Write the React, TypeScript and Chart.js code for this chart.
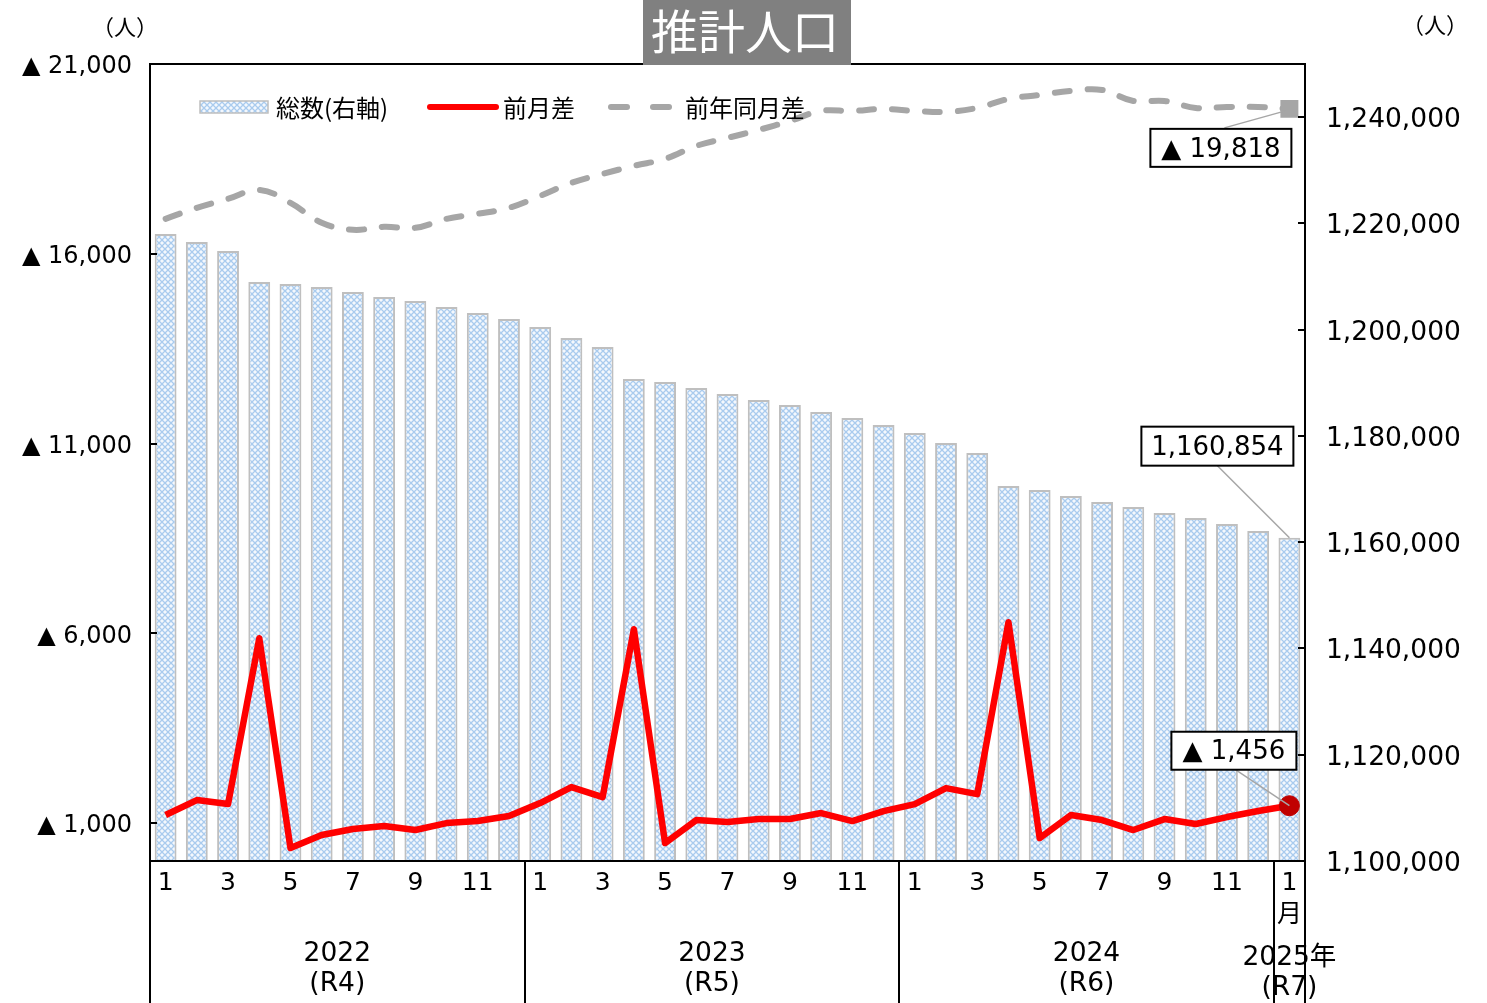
import React, { useEffect, useRef } from "react";
import { Chart, registerables } from "chart.js";

Chart.register(...registerables);

// ---------- data ----------
const categories = [
  "2022-01", "2022-02", "2022-03", "2022-04", "2022-05", "2022-06",
  "2022-07", "2022-08", "2022-09", "2022-10", "2022-11", "2022-12",
  "2023-01", "2023-02", "2023-03", "2023-04", "2023-05", "2023-06",
  "2023-07", "2023-08", "2023-09", "2023-10", "2023-11", "2023-12",
  "2024-01", "2024-02", "2024-03", "2024-04", "2024-05", "2024-06",
  "2024-07", "2024-08", "2024-09", "2024-10", "2024-11", "2024-12",
  "2025-01",
];

const monthTickLabels = [
  "1", "", "3", "", "5", "", "7", "", "9", "", "11", "",
  "1", "", "3", "", "5", "", "7", "", "9", "", "11", "",
  "1", "", "3", "", "5", "", "7", "", "9", "", "11", "",
  "1月",
];

const yearLabels = ["2022", "2023", "2024", "2025年"];
const eraLabels = ["(R4)", "(R5)", "(R6)", "(R7)"];
const yearFirstIndex = [0, 12, 24, 36];
const yearLastIndex = [11, 23, 35, 36];

// 総数 (right axis)
const totalPopulation = [
  1217983, 1216480, 1214785, 1208950, 1208574, 1208010, 1207069, 1206128,
  1205375, 1204246, 1203117, 1201988, 1200483, 1198413, 1196719, 1190698,
  1190134, 1189005, 1187876, 1186747, 1185806, 1184489, 1183359, 1182042,
  1180537, 1178655, 1176774, 1170564, 1169811, 1168682, 1167553, 1166612,
  1165483, 1164542, 1163413, 1162096, 1160854,
];

// 前月差 (decrease, shown with ▲)
const monthlyChange = [
  1211, 1605, 1500, 5868, 342, 684, 842, 921, 816, 1000, 1053, 1184,
  1526, 1947, 1684, 6105, 474, 1079, 1026, 1105, 1105, 1263, 1053, 1316,
  1500, 1921, 1763, 6289, 605, 1211, 1079, 816, 1105, 974, 1158, 1316,
  1456,
];

// 前年同月差 (decrease, shown with ▲)
const yearOnYearChange = [
  16921, 17211, 17447, 17684, 17342, 16816, 16632, 16711, 16684, 16921, 17053, 17211,
  17526, 17868, 18105, 18316, 18500, 18842, 19053, 19263, 19500, 19763, 19763, 19816,
  19763, 19737, 19842, 20079, 20184, 20289, 20316, 20026, 20026, 19842, 19868, 19868,
  19818,
];

const leftTicks = [1000, 6000, 11000, 16000, 21000];
const rightTicks = [1100000, 1120000, 1140000, 1160000, 1180000, 1200000, 1220000, 1240000];

const seriesNames = ["総数(右軸)", "前月差", "前年同月差"];
const titleText = "推計人口";
const unitText = "（人）";

// ---------- styles ----------
const NUM_FONT = '"DejaVu Sans", "Noto Sans CJK JP", sans-serif';
const JP_FONT = '"Noto Sans CJK JP", sans-serif';
const RED = "#ff0000";
const DARK_RED = "#c00000";
const GRAY = "#a6a6a6";
const BAR_BORDER = "#bfbfbf";

const fmt = (v: number) => Math.round(v).toLocaleString("en-US");

function makePattern(): CanvasPattern | string {
  const c = document.createElement("canvas");
  c.width = 6;
  c.height = 6;
  const g = c.getContext("2d");
  if (!g) return "#d6e6f6";
  g.fillStyle = "#f4f8fd";
  g.fillRect(0, 0, 6, 6);
  g.strokeStyle = "#a9cbee";
  g.lineWidth = 1.3;
  g.beginPath();
  g.moveTo(0, 0);
  g.lineTo(6, 6);
  g.moveTo(6, 0);
  g.lineTo(0, 6);
  g.stroke();
  const p = g.createPattern(c, "repeat");
  return p || "#d6e6f6";
}

export default function App() {
  const canvasRef = useRef<HTMLCanvasElement | null>(null);

  useEffect(() => {
    const canvas = canvasRef.current;
    if (!canvas) return;
    const pattern = makePattern();
    const last = categories.length - 1;

    const line = (ctx: CanvasRenderingContext2D, x1: number, y1: number, x2: number, y2: number) => {
      ctx.beginPath();
      ctx.moveTo(x1, y1);
      ctx.lineTo(x2, y2);
      ctx.stroke();
    };

    const callout = (
      ctx: CanvasRenderingContext2D,
      text: string,
      bx: number, by: number, bw: number, bh: number,
      fx: number, fy: number, tx: number, ty: number
    ) => {
      ctx.strokeStyle = GRAY;
      ctx.lineWidth = 1.5;
      line(ctx, fx, fy, tx, ty);
      ctx.fillStyle = "#fff";
      ctx.fillRect(bx, by, bw, bh);
      ctx.strokeStyle = "#000";
      ctx.lineWidth = 2;
      ctx.strokeRect(bx, by, bw, bh);
      ctx.fillStyle = "#000";
      ctx.font = `26px ${NUM_FONT}`;
      ctx.textAlign = "center";
      ctx.textBaseline = "middle";
      ctx.fillText(text, bx + bw / 2, by + bh / 2 + 2);
    };

    const decor = {
      id: "decor",
      afterDraw(chart: any) {
        const { ctx, chartArea: a, scales } = chart;
        const xs = scales.x;
        const yl = scales.y;
        const yr = scales.y1;
        const H = chart.height;
        ctx.save();

        // inward tick marks
        ctx.strokeStyle = "#000";
        ctx.lineWidth = 2;
        leftTicks.forEach((v) => {
          const py = Math.round(yl.getPixelForValue(v));
          line(ctx, a.left, py, a.left + 7, py);
        });
        rightTicks.forEach((v) => {
          const py = Math.round(yr.getPixelForValue(v));
          line(ctx, a.right - 7, py, a.right, py);
        });

        // frame
        ctx.strokeRect(a.left, a.top, a.right - a.left, a.bottom - a.top);

        // year separators below the axis
        const bounds: number[] = [];
        yearFirstIndex.forEach((i) => {
          bounds.push(i === 0 ? a.left : (xs.getPixelForValue(i - 1) + xs.getPixelForValue(i)) / 2);
        });
        bounds.push(a.right);
        bounds.forEach((bx) => line(ctx, Math.round(bx), a.bottom, Math.round(bx), H));

        // year labels
        ctx.fillStyle = "#000";
        ctx.textAlign = "center";
        ctx.textBaseline = "middle";
        yearLabels.forEach((lab, k) => {
          const single = yearFirstIndex[k] === yearLastIndex[k];
          const cx = single
            ? xs.getPixelForValue(yearFirstIndex[k])
            : (bounds[k] + bounds[k + 1]) / 2;
          const off = single ? 4 : 0;
          ctx.font = `26.5px ${NUM_FONT}`;
          ctx.fillText(lab, cx, a.bottom + 93 + off);
          ctx.fillText(eraLabels[k], cx, a.bottom + 123 + off);
        });

        // unit labels
        ctx.font = `22px ${JP_FONT}`;
        ctx.fillText(unitText, 125, 27);
        ctx.fillText(unitText, 1435, 25);

        // legend
        const ly = a.top + 43;
        ctx.fillStyle = pattern as any;
        ctx.fillRect(200, ly - 6, 68, 12);
        ctx.strokeStyle = BAR_BORDER;
        ctx.lineWidth = 1.5;
        ctx.strokeRect(200, ly - 6, 68, 12);
        ctx.fillStyle = "#000";
        ctx.font = `24px ${JP_FONT}`;
        ctx.textAlign = "left";
        ctx.fillText(seriesNames[0], 276, ly + 1);
        ctx.strokeStyle = RED;
        ctx.lineWidth = 6;
        ctx.lineCap = "round";
        line(ctx, 430, ly, 496, ly);
        ctx.fillText(seriesNames[1], 503, ly + 1);
        ctx.strokeStyle = GRAY;
        line(ctx, 611, ly, 627, ly);
        line(ctx, 653, ly, 669, ly);
        ctx.lineCap = "butt";
        ctx.fillText(seriesNames[2], 685, ly + 1);

        // callouts
        const gp = chart.getDatasetMeta(1).data[last];
        const rp = chart.getDatasetMeta(2).data[last];
        const bp = chart.getDatasetMeta(0).data[last];
        if (gp) {
          callout(ctx, "▲ " + fmt(yearOnYearChange[last]),
            gp.x - 139, gp.y + 20, 141, 38,
            gp.x - 65, gp.y + 19, gp.x - 4, gp.y + 2);
        }
        if (bp) {
          callout(ctx, fmt(totalPopulation[last]),
            bp.x - 148, bp.y - 111, 152, 39,
            bp.x - 72, bp.y - 72, bp.x, bp.y);
        }
        if (rp) {
          callout(ctx, "▲ " + fmt(monthlyChange[last]),
            rp.x - 118, rp.y - 74, 125, 38,
            rp.x - 54, rp.y - 36, rp.x, rp.y);
        }

        // title
        ctx.fillStyle = "#808080";
        ctx.fillRect(643, 0, 208, 65);
        ctx.fillStyle = "#fff";
        ctx.font = `47px ${JP_FONT}`;
        ctx.textAlign = "center";
        ctx.fillText(titleText, 745, 31);

        ctx.restore();
      },
    };

    const chart = new Chart(canvas, {
      type: "bar",
      data: {
        labels: categories,
        datasets: [
          {
            type: "bar",
            label: seriesNames[0],
            data: totalPopulation,
            yAxisID: "y1",
            backgroundColor: pattern as any,
            borderColor: BAR_BORDER,
            borderWidth: 2,
            categoryPercentage: 1,
            barPercentage: 0.7,
            order: 3,
          },
          {
            type: "line",
            label: seriesNames[2],
            data: yearOnYearChange,
            yAxisID: "y",
            borderColor: GRAY,
            backgroundColor: GRAY,
            borderWidth: 6,
            borderDash: [15, 18],
            borderCapStyle: "round",
            tension: 0.4,
            fill: false,
            pointStyle: "rect",
            pointRadius: (c: any) => (c.dataIndex === last ? 12.7 : 0),
            pointBackgroundColor: GRAY,
            pointBorderWidth: 0,
            order: 2,
          },
          {
            type: "line",
            label: seriesNames[1],
            data: monthlyChange,
            yAxisID: "y",
            borderColor: RED,
            backgroundColor: RED,
            borderWidth: 6.5,
            borderJoinStyle: "round",
            tension: 0,
            fill: false,
            pointRadius: (c: any) => (c.dataIndex === last ? 10 : 0),
            pointBackgroundColor: DARK_RED,
            pointBorderColor: DARK_RED,
            pointBorderWidth: 1,
            order: 1,
          },
        ] as any,
      },
      options: {
        responsive: false,
        animation: false,
        devicePixelRatio: 1,
        layout: { padding: { top: 64, left: 0, right: 0, bottom: 0 } },
        plugins: {
          legend: { display: false },
          title: { display: false },
          tooltip: { enabled: false },
        },
        scales: {
          x: {
            type: "category",
            grid: { display: false, drawTicks: false },
            border: { display: false },
            ticks: {
              autoSkip: false,
              maxRotation: 0,
              minRotation: 0,
              padding: 6,
              color: "#000",
              font: { family: NUM_FONT, size: 25, lineHeight: 1.28 },
              callback: (_v: any, i: number) => {
                const s = monthTickLabels[i];
                return s.endsWith("月") ? [s.slice(0, -1), "月"] : s;
              },
            },
            afterFit: (s: any) => {
              s.height = 142;
            },
          },
          y: {
            position: "left",
            min: 0,
            max: 21000,
            grid: { display: false, drawTicks: false },
            border: { display: false },
            ticks: {
              padding: 18,
              labelOffset: 3,
              color: "#000",
              font: { family: NUM_FONT, size: 24 },
              callback: (v: any) => "▲ " + fmt(Number(v)),
            },
            afterBuildTicks: (s: any) => {
              s.ticks = leftTicks.map((v) => ({ value: v }));
            },
            afterFit: (s: any) => {
              s.width = 150;
            },
          },
          y1: {
            position: "right",
            min: 1100000,
            max: 1250000,
            grid: { display: false, drawTicks: false },
            border: { display: false },
            ticks: {
              padding: 21,
              labelOffset: 3,
              color: "#000",
              font: { family: NUM_FONT, size: 26.5 },
              callback: (v: any) => fmt(Number(v)),
            },
            afterBuildTicks: (s: any) => {
              s.ticks = rightTicks.map((v) => ({ value: v }));
            },
            afterFit: (s: any) => {
              s.width = 182;
            },
          },
        },
      } as any,
      plugins: [decor],
    });

    return () => chart.destroy();
  }, []);

  return (
    <div
      style={{
        position: "fixed",
        left: 0,
        top: 0,
        width: 1487,
        height: 1003,
        background: "#fff",
        overflow: "hidden",
      }}
    >
      <canvas ref={canvasRef} width={1487} height={1003} style={{ display: "block" }} />
    </div>
  );
}
